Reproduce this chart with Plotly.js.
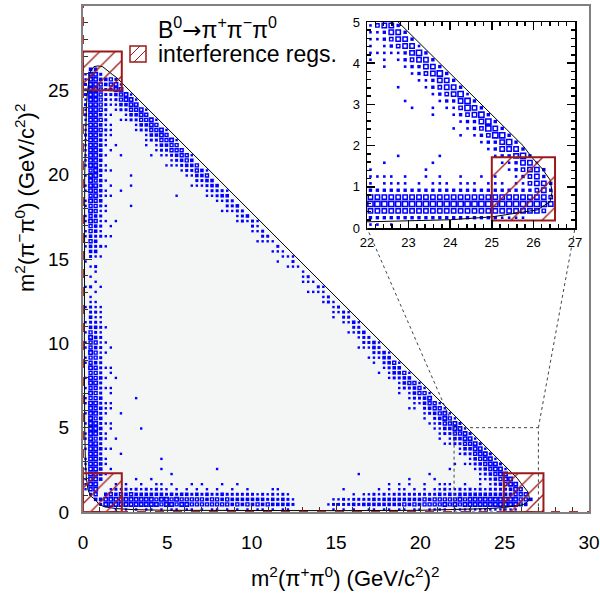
<!DOCTYPE html>
<html><head><meta charset="utf-8">
<script src="https://cdn.plot.ly/plotly-3.0.1.min.js"></script>
<style>html,body{margin:0;padding:0;background:#fff}#chart{width:600px;height:597px}</style>
</head><body><div id="chart"></div>
<script>
// ---------------- data ----------------
const mainRange = [0, 30];
const mainBinW = 0.3;                 // histogram bin width (GeV/c^2)^2
// left band: columns (bin index along x), weights along y bins (j = 0,1,2,...)
const leftColIdx = [0, 1, 2, 3, 4, 5];
const leftColW = [
  "0000111011 1010110101 0110101001 1011010100 1000100001 0010110110 1101101011 1111211121 212121100",
  "0002455555 5555555555 5545455454 4544543232 2110201010 2334344545 4545555455 5555555555 555555530",
  "0034555555 5555455545 4544454443 4434323212 1101010020 1323233434 4454545555 5555555555 555555530",
  "0000003333 3232323232 3232223222 2121212111 1000100000 1020212121 2323232323 3333343434 444443200",
  "0000000101 1010110101 1100101010 0101001000 0000000000 0010100101 1011010110 1011121212 222233000",
  "0000000010 0010001000 0100000100 0010000000 0000000000 0000100000 0010000100 0100101010 112230000"
];
// bottom band: rows (bin index along y), weights along x bins (i = 0,1,2,...)
const bottomRowIdx = [0, 1, 2, 3, 4, 5];
const bottomRowW = [
  "0000001010 1011010110 1101011010 1010110101 1000000001 0101001101 1011011011 1101111111 111111000",
  "0002555555 5555545545 5444444443 4343434333 3200000012 2223233333 3334343444 4545455555 555555430",
  "0003555555 5555455454 4444344343 3333332323 2100000001 1212222323 3333333434 4444545555 555555443",
  "0000343434 3333332323 3232322322 2222121212 1000000000 0001011212 1222222222 3232333333 333334440",
  "0000012121 2121211010 1010101001 0010000100 0000000000 0100000010 1011010101 1211212121 222223300",
  "0000001010 0100010000 0100000100 0000000000 0000000000 0000000000 1000100100 1010010010 100112000"
];
// diagonal band: anti-diagonals (i + j = const), weights along x bins
const diagIdx = [91, 90, 89, 88, 87, 86, 85, 84];
const diagW = [
  "0000002101 1010101010 0100100010 0000100000 0100000100 0010100010 1010101110 1111212121 2121000000 00",
  "0000045555 5545454544 4343433232 3232122121 1211212121 2223232323 3434344454 4545555555 5555554300 00",
  "0000345455 4545454444 4343332322 2212121011 0101101121 1212222323 3333434344 4545454555 5555550000 00",
  "0000333434 3434343433 3232222121 1201010100 1001010101 0101121212 2323232333 3434343444 4444300000 00",
  "0000022323 2323232222 2121111010 1000100010 0000100001 0010010101 1212121222 2323232333 3332000000 00",
  "0000011212 1212121111 1010100100 0000000000 0000000000 0000100100 1010110101 1212121222 2220000000 00",
  "0000001010 1010110100 0100000000 0000000000 0000000000 0000000010 0010010010 1010101111 1100000000 00",
  "0000000100 0010001000 0000000000 0000000000 0000000000 0000000000 0000100000 0100010010 0100000000 00"
];
// isolated single entries
const extraX = [1.7, 2.0, 2.3, 2.9, 2.9, 2.3, 2.9, 2.0, 4.1, 5.55, 2.6, 3.2, 2.3, 3.5, 2.0, 2.3, 4.7, 4.7, 5.25, 3.2,
                4.1, 4.4, 5.25, 7.0, 7.9, 8.2, 9.1, 9.7, 11.3, 11.6, 1.7, 2.0, 1.7, 1.7, 1.7, 1.7, 16.4, 15.5, 18.1, 18.75,
                19.3, 20.3, 21.5, 19.3, 20.6, 20.9, 21.75, 22.05, 23.2, 19.7, 20.3, 20.9, 20.9, 21.2, 21.5, 17.6, 17.0, 17.9, 15.8, 22.0,
                1.66, 1.36, 1.66, 0.77];
const extraY = [22.6, 21.8, 21.2, 20.0, 19.4, 19.0, 18.2, 17.3, 21.2, 18.8, 23.2, 6.7, 5.85, 5.0, 4.4, 3.5, 3.1, 2.55, 2.25, 1.95,
                1.95, 1.65, 1.65, 1.65, 2.55, 1.65, 1.65, 1.36, 1.07, 1.36, 8.6, 7.9, 7.3, 7.0, 6.1, 5.3, 2.3, 1.36, 1.7, 1.7,
                1.7, 1.7, 1.7, 2.0, 2.3, 1.96, 2.6, 5.06, 3.2, 6.15, 5.55, 5.26, 4.96, 4.37, 4.66, 8.3, 9.2, 8.6, 10.7, 2.74,
                19.4, 18.8, 17.0, 14.3];

// inset histogram (finer binning), rows from y = 0 upward, weights along x bins from 22
const insetXRange = [22, 27];
const insetYRange = [0, 5];
const insetBinW = 1 / 6;
const insetRowW = [
  "1101",
  "22222222222222222221111",
  "44444444444444444444444443",
  "555555555555555555555555554",
  "444444444444444444444444443",
  "222222222222222222222222342",
  "1011110101110111011101" + "13442",
  "11110100101001001010" + "012342",
  "10000000100000000000" + "123442",
  "0010000001000000000" + "112441",
  "000010000010000000" + "122452",
  "00000000000000000" + "124442",
  "0000000000000000" + "122452",
  "000000000000010" + "123552",
  "00000000000010" + "123542",
  "0000000000000" + "122452",
  "000000000100" + "123452",
  "00000010010" + "113542",
  "0000010000" + "122452",
  "000000000" + "123451",
  "00001000" + "123442",
  "0000000" + "112442",
  "000000" + "123452",
  "00100" + "122442",
  "1010" + "123442",
  "111" + "112452",
  "10" + "123441",
  "1" + "123442",
  "112442",
  "13442"
];

// kinematic (Dalitz) boundary
const boundaryX = [0.73, 0.45, 0.3, 0.2, 0.14, 0.1, 0.08, 0.08, 0.1, 0.15, 0.2, 0.27, 0.44, 0.64, 0.88, 1.17, 1.45, 1.73, 2.0,
                   25.75, 25.95, 26.2, 26.4, 26.45, 26.4, 26.1, 25.0, 24.0, 22.0, 20.0, 15.0, 10.0, 5.0, 3.0, 2.0, 1.3, 0.95, 0.73];
const boundaryY = [0.73, 0.95, 1.3, 2.0, 3.0, 5.0, 10.0, 15.0, 20.0, 22.0, 24.0, 25.0, 26.1, 26.4, 26.45, 26.4, 26.2, 25.95, 25.75,
                   2.0, 1.73, 1.45, 1.17, 0.88, 0.64, 0.44, 0.27, 0.2, 0.15, 0.1, 0.08, 0.08, 0.1, 0.14, 0.2, 0.3, 0.45, 0.73];

// interference regions
const regX0 = [0, 0, 24.95], regX1 = [2.3, 2.3, 27.3];
const regY0 = [25, 0, 0],    regY1 = [27.3, 2.3, 2.3];
const insetRegX0 = [25.0], insetRegX1 = [26.52];
const insetRegY0 = [0.18], insetRegY1 = [1.72];

// zoom window shown in the inset
const zoomX = [22, 27], zoomY = [0, 5];

const xTitle = 'm<sup>2</sup>(π<sup>+</sup>π<sup>0</sup>) (GeV/c<sup>2</sup>)<sup>2</sup>';
const yTitle = 'm<sup>2</sup>(π<sup>−</sup>π<sup>0</sup>) (GeV/c<sup>2</sup>)<sup>2</sup>';
const legendHeader = 'B<sup>0</sup><span style="font-family:DejaVu Sans">→</span>π<sup>+</sup>π<sup>−</sup>π<sup>0</sup>';
const legendEntry = 'interference regs.';

// ---------------- build ----------------
const W = 600, H = 597;
const M = {l: 83, r: 11, t: 6, b: 85};
const PW = W - M.l - M.r, PH = H - M.t - M.b;
const px2x = px => (px - M.l) / PW;
const py2y = py => (H - M.b - py) / PH;

const FONT = 'Liberation Sans, Arial, Helvetica, sans-serif';
const BLUE = '#0000ff';
const RED = '#9a1a1a';

const clean = s => s.replace(/\s+/g, '');
const cells = new Map();
function put(i, j, w) {
  if (!(w > 0) || i < 0 || j < 0) return;
  const k = i + ',' + j;
  if (!cells.has(k) || cells.get(k) < w) cells.set(k, w);
}
leftColIdx.forEach((i, n) => clean(leftColW[n]).split('').forEach((c, j) => put(i, j, +c)));
bottomRowIdx.forEach((j, n) => clean(bottomRowW[n]).split('').forEach((c, i) => put(i, j, +c)));
diagIdx.forEach((d, n) => clean(diagW[n]).split('').forEach((c, i) => put(i, d - i, +c)));
extraX.forEach((x, n) => put(Math.floor(x / mainBinW), Math.floor(extraY[n] / mainBinW), 1));

// marker styling per weight: [size, symbol, outline width]
const mainStyle = [null, [2.4, 'square', 0], [3.0, 'square', 0], [3.6, 'square', 0], [3.0, 'square-open', 1.4], [3.4, 'square-open', 1.6]];
const mX = [], mY = [], mS = [], mSym = [], mLW = [];
cells.forEach((w, k) => {
  const [i, j] = k.split(',').map(Number);
  const st = mainStyle[w];
  mX.push((i + 0.5) * mainBinW); mY.push((j + 0.5) * mainBinW);
  mS.push(st[0]); mSym.push(st[1]); mLW.push(st[2]);
});

const insetStyle = [null, [2.6, 'square', 0], [3.4, 'square', 0], [3.4, 'square-open', 1.4], [4.4, 'square-open', 1.5], [5.2, 'square-open', 1.6]];
const iX = [], iY = [], iS = [], iSym = [], iLW = [];
insetRowW.forEach((row, j) => clean(row).split('').forEach((c, i) => {
  const w = +c; if (!(w > 0)) return;
  const st = insetStyle[w];
  iX.push(insetXRange[0] + (i + 0.5) * insetBinW); iY.push(insetYRange[0] + (j + 0.5) * insetBinW);
  iS.push(st[0]); iSym.push(st[1]); iLW.push(st[2]);
}));

function boxTrace(x0, x1, y0, y1, xa, ya, size, sol) {
  return {
    type: 'scatter', mode: 'lines', xaxis: xa, yaxis: ya, hoverinfo: 'skip', showlegend: false,
    x: [x0, x1, x1, x0, x0], y: [y0, y0, y1, y1, y0],
    fill: 'toself', fillcolor: 'rgba(0,0,0,0)',
    fillpattern: {shape: '/', fgcolor: RED, fgopacity: 1, bgcolor: 'rgba(0,0,0,0)', size: size, solidity: sol, fillmode: 'overlay'},
    line: {color: RED, width: 2}
  };
}

const traces = [
  {type: 'scatter', mode: 'lines', x: boundaryX, y: boundaryY, fill: 'toself', fillcolor: '#f4f6f6',
   line: {width: 0}, hoverinfo: 'skip', showlegend: false},
  {type: 'scatter', mode: 'markers', x: mX, y: mY, hoverinfo: 'skip', showlegend: false,
   marker: {symbol: mSym, size: mS, color: BLUE, opacity: 1, line: {color: BLUE, width: mLW}}},
  {type: 'scatter', mode: 'lines', x: boundaryX, y: boundaryY, line: {color: '#000', width: 1},
   hoverinfo: 'skip', showlegend: false}
];
regX0.forEach((_, n) => traces.push(boxTrace(regX0[n], regX1[n], regY0[n], regY1[n], 'x', 'y', 11, 0.12)));
traces.push({type: 'scatter', mode: 'markers', x: iX, y: iY, xaxis: 'x2', yaxis: 'y2', hoverinfo: 'skip', showlegend: false,
   marker: {symbol: iSym, size: iS, color: BLUE, opacity: 1, line: {color: BLUE, width: iLW}}});
traces.push({type: 'scatter', mode: 'lines', x: boundaryX, y: boundaryY, xaxis: 'x2', yaxis: 'y2',
   line: {color: '#000', width: 1}, hoverinfo: 'skip', showlegend: false});
insetRegX0.forEach((_, n) => traces.push(boxTrace(insetRegX0[n], insetRegX1[n], insetRegY0[n], insetRegY1[n], 'x2', 'y2', 22, 0.06)));

// inset placement (pixels of the frame in the picture)
const insetDomX = [px2x(367), px2x(575)];
const insetDomY = [py2y(228), py2y(22)];
const toPaperX = v => (v - mainRange[0]) / (mainRange[1] - mainRange[0]);
const toPaperY = v => (v - mainRange[0]) / (mainRange[1] - mainRange[0]);

const shapes = [
  {type: 'line', xref: 'x', yref: 'y', x0: 0, x1: 0, y0: mainRange[0], y1: mainRange[1], line: {color: '#b03030', width: 2, dash: 'dash'}},
  {type: 'line', xref: 'x', yref: 'y', y0: 0, y1: 0, x0: mainRange[0], x1: mainRange[1], line: {color: '#b03030', width: 2, dash: 'dash'}},
  {type: 'rect', xref: 'x', yref: 'y', x0: zoomX[0], x1: zoomX[1], y0: zoomY[0], y1: zoomY[1], line: {color: '#444', width: 1, dash: 'dot'}},
  {type: 'line', xref: 'paper', yref: 'paper', x0: toPaperX(zoomX[0]), y0: toPaperY(zoomY[1]), x1: insetDomX[0], y1: insetDomY[0], line: {color: '#444', width: 1, dash: 'dot'}},
  {type: 'line', xref: 'paper', yref: 'paper', x0: toPaperX(zoomX[1]), y0: toPaperY(zoomY[1]), x1: insetDomX[1], y1: insetDomY[0], line: {color: '#444', width: 1, dash: 'dot'}},
  // legend hatched box
  {type: 'rect', xref: 'paper', yref: 'paper', x0: px2x(130), x1: px2x(146), y0: py2y(62), y1: py2y(46), line: {color: RED, width: 1.5}},
  {type: 'path', xref: 'paper', yref: 'paper',
   path: `M ${px2x(130)} ${py2y(56)} L ${px2x(140)} ${py2y(46)} M ${px2x(134)} ${py2y(62)} L ${px2x(146)} ${py2y(50)}`,
   line: {color: RED, width: 1}}
];

const annotations = [
  {xref: 'paper', yref: 'paper', x: px2x(156), y: py2y(28), xanchor: 'left', yanchor: 'middle', showarrow: false,
   text: legendHeader, font: {family: FONT, size: 23, color: '#000'}},
  {xref: 'paper', yref: 'paper', x: px2x(156), y: py2y(54), xanchor: 'left', yanchor: 'middle', showarrow: false,
   text: legendEntry, font: {family: FONT, size: 23, color: '#000'}},
  // axis titles (ROOT places them off-centre)
  {xref: 'paper', yref: 'paper', x: px2x(345), y: py2y(577), xanchor: 'center', yanchor: 'middle', showarrow: false,
   text: xTitle, font: {family: FONT, size: 22, color: '#000'}},
  {xref: 'paper', yref: 'paper', x: px2x(25), y: py2y(198), xanchor: 'center', yanchor: 'middle', showarrow: false,
   textangle: -90, text: yTitle, font: {family: FONT, size: 22, color: '#000'}}
];

const mainAxis = {
  range: mainRange, dtick: 5, ticks: 'inside', ticklen: 9, tickwidth: 1, tickcolor: '#333',
  minor: {ticks: 'inside', ticklen: 5, dtick: 1, tickcolor: '#333'},
  showgrid: false, zeroline: false, showline: true, mirror: true, linecolor: '#808080', linewidth: 2,
  tickfont: {family: FONT, size: 19, color: '#000'}, fixedrange: true
};
const insetAxis = {
  dtick: 1, ticks: 'inside', ticklen: 8, tickwidth: 1.5, tickcolor: '#000',
  minor: {ticks: 'inside', ticklen: 4, dtick: 0.2, tickcolor: '#000'},
  showgrid: false, zeroline: false, showline: true, mirror: 'allticks', linecolor: '#000', linewidth: 1.5,
  tickfont: {family: FONT, size: 13, color: '#000'}, fixedrange: true
};

const layout = {
  width: W, height: H, margin: M, paper_bgcolor: '#fff', plot_bgcolor: 'rgba(0,0,0,0)',
  showlegend: false, font: {family: FONT},
  xaxis: Object.assign({}, mainAxis, {domain: [0, 1], anchor: 'y', ticklabelstandoff: 12}),
  yaxis: Object.assign({}, mainAxis, {domain: [0, 1], anchor: 'x', ticklabelstandoff: 8}),
  xaxis2: Object.assign({}, insetAxis, {domain: insetDomX, anchor: 'y2', range: insetXRange, ticklabelstandoff: 2}),
  yaxis2: Object.assign({}, insetAxis, {domain: insetDomY, anchor: 'x2', range: insetYRange, ticklabelstandoff: 3}),
  shapes: shapes, annotations: annotations
};

Plotly.newPlot('chart', traces, layout, {staticPlot: true, displayModeBar: false});
</script>
</body></html>
